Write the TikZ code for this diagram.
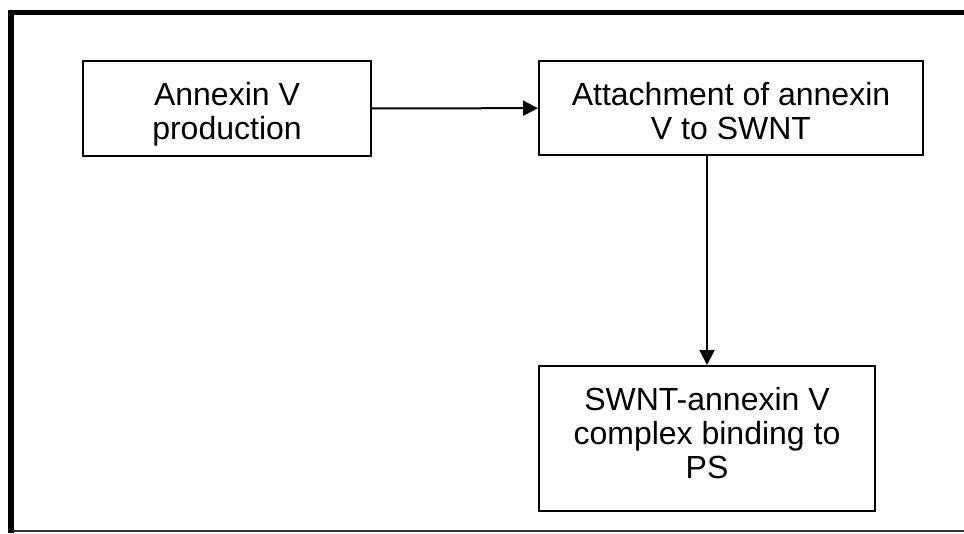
\documentclass[tikz,border=0pt]{standalone}
\usepackage{fontspec}
\setmainfont{Liberation Sans}
\usetikzlibrary{arrows.meta}
\newcommand{\steptext}[3]{\parbox[c][#2][t]{#1}{\centering\vspace*{21pt}#3}}

\begin{document}
\begin{tikzpicture}[x=1pt, y=-1pt,
		stepbox/.style={draw, line width=2pt, inner sep=0pt,
			font=\fontsize{32}{34}\selectfont},
		flow/.style={line width=2pt, -{Triangle[length=15pt,width=15pt]}}]
			%%%%% START %%%%%
			
			\useasboundingbox (0, 0) rectangle (964, 533);
			
			% frame
			\draw[line width=5pt] (8, 12.5) -- (964, 12.5);
			\draw[line width=6pt] (11, 10) -- (11, 533);
			\draw[line width=2pt, color=black!80] (14, 531) -- (964, 531);
			
			% steps
			\node[stepbox] (prod) at (227, 108.5) {\steptext{288pt}{95pt}{Annexin V\\production}};
			\node[stepbox] (attach) at (731, 108) {\steptext{384pt}{94pt}{Attachment of annexin\\V to SWNT}};
			\node[stepbox] (bind) at (707, 438.5) {\steptext{336pt}{145pt}{SWNT-annexin V\\complex binding to\\PS}};
			
			\draw[flow] (prod) -- (attach);
			\draw[flow] (attach.south -| bind.north) -- (bind.north);
			
			%%%%% END %%%%%
		\end{tikzpicture}
\end{document}
